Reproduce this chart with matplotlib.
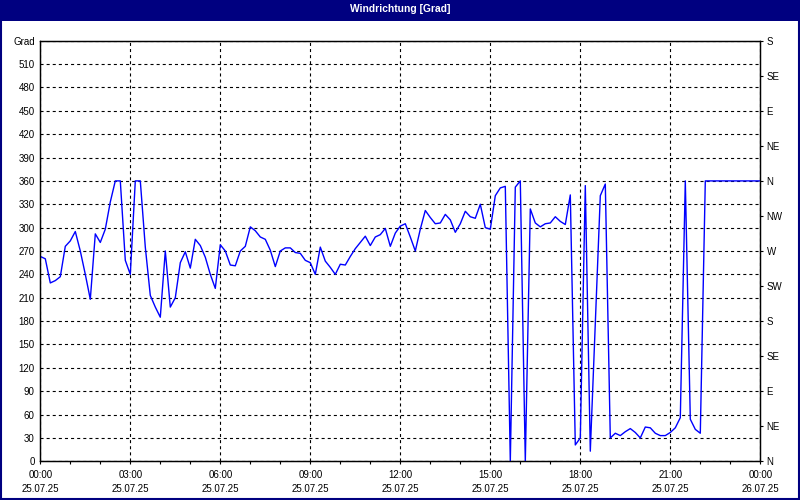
import matplotlib
matplotlib.use("Agg")
import matplotlib.pyplot as plt
import matplotlib.dates as mdates
import pandas as pd
from matplotlib.patches import Rectangle

# Windrichtung alle 10 Minuten, 25.07.25 00:00 bis 26.07.25 00:00
wind_dir = [
    263, 260, 229, 232, 237, 276, 283, 295, 270, 240, 208, 292,
    281, 298, 333, 360, 360, 258, 240, 360, 360, 275, 213, 198,
    185, 270, 198, 210, 255, 269, 248, 285, 277, 262, 240, 222,
    278, 270, 252, 251, 270, 276, 301, 296, 288, 285, 271, 250,
    270, 274, 274, 268, 267, 258, 255, 240, 275, 257, 249, 240,
    253, 252, 263, 273, 281, 289, 277, 288, 291, 299, 276, 293,
    302, 305, 288, 270, 298, 322, 313, 305, 306, 317, 310, 294,
    305, 321, 314, 312, 330, 300, 298, 341, 351, 353, 0, 352,
    360, 0, 324, 306, 301, 305, 306, 314, 308, 304, 342, 21,
    30, 354, 13, 177, 341, 356, 30, 36, 33, 38, 42, 37,
    30, 44, 43, 36, 33, 33, 37, 43, 56, 360, 54, 41,
    36, 360, 360, 360, 360, 360, 360, 360, 360, 360, 360, 360,
    360,
]
times = pd.date_range("2025-07-25 00:00", periods=len(wind_dir), freq="10min")

left_ticks = list(range(0, 541, 30))
left_labels = [str(v) for v in range(0, 511, 30)] + ["Grad"]
right_ticks = list(range(0, 541, 45))
right_labels = ["N", "NE", "E", "SE", "S", "SW", "W", "NW", "N", "NE", "E", "SE", "S"]

title = "Windrichtung [Grad]"
navy = "#000080"

plt.rcParams["font.family"] = ["Liberation Sans", "DejaVu Sans"]
plt.rcParams["font.size"] = 7
plt.rcParams["lines.scale_dashes"] = False

fig = plt.figure(figsize=(8, 5), dpi=100)
fig.patch.set_facecolor("white")

# Titelleiste und Rahmen
fig.patches.append(Rectangle((0, 1 - 20.5 / 500), 1, 20.5 / 500, transform=fig.transFigure,
                             facecolor=navy, edgecolor="none", zorder=0))
fig.patches.append(Rectangle((0.001, 0.002), 0.998, 0.997, transform=fig.transFigure,
                             facecolor="none", edgecolor=navy, linewidth=1.5, zorder=5))
fig.text(0.5, 1 - 9 / 500, title, color="white", fontweight="bold", fontsize=7.4,
         ha="center", va="center")

ax = fig.add_axes([40.3 / 800, 1 - 461.3 / 500, 720 / 800, 420.6 / 500])
ax.plot(times, wind_dir, color="#0000FF", linewidth=1.0, zorder=3)

ax.set_xlim(times[0], times[-1])
ax.set_ylim(0, 540)

ax.set_yticks(left_ticks)
ax.set_yticklabels(left_labels)
ax.tick_params(axis="y", length=0, pad=4)

ax.xaxis.set_major_locator(mdates.HourLocator(byhour=range(0, 24, 3)))
ax.xaxis.set_minor_locator(mdates.HourLocator())
ax.xaxis.set_major_formatter(mdates.DateFormatter("%H:%M\n%d.%m.%y"))
ax.tick_params(axis="x", which="both", length=2.5, width=0.8, pad=3.5)
for lbl in ax.get_xticklabels():
    lbl.set_linespacing(1.6)

ax.grid(True, which="major", color="black", linestyle=(0, (2.2, 2.2)), linewidth=0.8)
for s in ax.spines.values():
    s.set_linewidth(0.9)

ax2 = ax.twinx()
ax2.set_ylim(0, 540)
ax2.set_yticks(right_ticks)
ax2.set_yticklabels(right_labels)
ax2.tick_params(axis="y", length=2.5, width=0.8, pad=2)
for s in ax2.spines.values():
    s.set_linewidth(0.9)

fig.savefig("out.png", dpi=100)
